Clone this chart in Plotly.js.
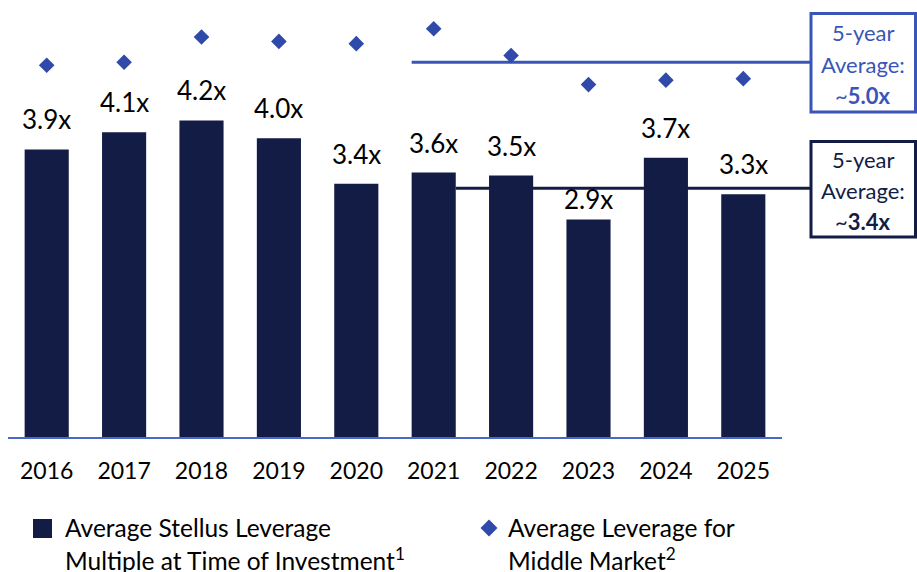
<!DOCTYPE html>
<html>
<head>
<meta charset="utf-8">
<script src="https://cdn.plot.ly/plotly-3.0.1.min.js"></script>
<style>html,body{margin:0;padding:0;background:#fff;}#chart{width:917px;height:572px;}</style>
</head>
<body>
<div id="chart"></div>
<script>
// ---- data ----
var years = ['2016','2017','2018','2019','2020','2021','2022','2023','2024','2025'];
var stellusValues = [3.86, 4.09, 4.25, 4.01, 3.40, 3.55, 3.51, 2.92, 3.75, 3.26];
var stellusLabels = ['3.9x','4.1x','4.2x','4.0x','3.4x','3.6x','3.5x','2.9x','3.7x','3.3x'];
var middleMarketValues = [4.99, 5.03, 5.37, 5.31, 5.28, 5.48, 5.12, 4.73, 4.79, 4.81];
var averageYears = ['2021','2022','2023','2024','2025'];
var middleMarketAverage = 5.03;
var stellusAverage = 3.34;
var middleMarketAverageLabel = ['5-year', 'Average:', '~<b>5.0x</b>'];
var stellusAverageLabel = ['5-year', 'Average:', '~<b>3.4x</b>'];
var stellusLegendLines = ['Average Stellus Leverage', 'Multiple at Time of Investment<sup>1</sup>'];
var middleMarketLegendLines = ['Average Leverage for', 'Middle Market<sup>2</sup>'];

// ---- layout helpers ----
var W = 917, H = 572, M = {l: 8, r: 135, t: 20, b: 135};
var plotW = W - M.l - M.r, plotH = H - M.t - M.b;
var yTop = plotH / 74.5;
var bargap = 0.43;
function px2paperX(px) { return (px - M.l) / plotW; }
function px2paperY(py) { return (H - M.b - py) / plotH; }
function catPaper(i, off) { return (i + 0.5 + off) / years.length; }

var DARK = '#121c45', BLUE = '#2f4aa8', LINEBLUE = '#3a55b8', AXIS = '#4a68c8';
var FONT = 'Lato, "Open Sans", sans-serif';

var firstAvg = years.indexOf(averageYears[0]);
var halfBar = (1 - bargap) / 2;

var traces = [
  {type: 'bar', x: years, y: stellusValues, name: 'Average Stellus Leverage Multiple at Time of Investment',
   marker: {color: DARK}, showlegend: false, hoverinfo: 'skip'},
  {type: 'scatter', mode: 'markers', x: years, y: middleMarketValues, cliponaxis: false,
   name: 'Average Leverage for Middle Market',
   marker: {symbol: 'diamond', size: 12, color: BLUE}, showlegend: false, hoverinfo: 'skip'}
];

var annotations = years.map(function (yr, i) {
  return {x: i, y: stellusValues[i], text: stellusLabels[i], showarrow: false,
          xref: 'x', yref: 'y', yanchor: 'bottom', yshift: (i === 7 ? 2 : 12),
          font: {family: FONT, size: 26, color: '#000'}};
});

function textLines(lines, color, xpx, anchor, top, step, size) {
  lines.forEach(function (t, k) {
    annotations.push({xref: 'paper', yref: 'paper', x: px2paperX(xpx), y: px2paperY(top + k * step),
      text: t, showarrow: false, xanchor: anchor, yanchor: 'middle',
      font: {family: FONT, size: size, color: color}});
  });
}
// average boxes
textLines(middleMarketAverageLabel, LINEBLUE, 863, 'center', 32, 32, 22);
textLines(stellusAverageLabel, DARK, 863, 'center', 159, 31, 22);
// legend
textLines(stellusLegendLines, '#000', 63, 'left', 527, 32, 24.5);
textLines(middleMarketLegendLines, '#000', 506, 'left', 527, 32, 24.5);

function pX(px) { return px2paperX(px); }
function pY(py) { return px2paperY(py); }
var dc = {x: 489, y: 528, r: 8.5};

var shapes = [
  {type: 'line', xref: 'paper', yref: 'y', layer: 'below',
   x0: catPaper(firstAvg, -halfBar), x1: px2paperX(810), y0: middleMarketAverage, y1: middleMarketAverage,
   line: {color: LINEBLUE, width: 3}},
  {type: 'line', xref: 'paper', yref: 'y', layer: 'below',
   x0: catPaper(firstAvg, halfBar), x1: px2paperX(810), y0: stellusAverage, y1: stellusAverage,
   line: {color: DARK, width: 3}},
  {type: 'rect', xref: 'paper', yref: 'paper', x0: pX(811), x1: pX(915.5),
   y0: pY(112), y1: pY(13.5), line: {color: LINEBLUE, width: 3}, fillcolor: '#fff'},
  {type: 'rect', xref: 'paper', yref: 'paper', x0: pX(811), x1: pX(915.5),
   y0: pY(237), y1: pY(141.5), line: {color: DARK, width: 3}, fillcolor: '#fff'},
  // legend swatches
  {type: 'rect', xref: 'paper', yref: 'paper', x0: pX(33), x1: pX(52), y0: pY(538), y1: pY(519),
   line: {width: 0}, fillcolor: DARK},
  {type: 'path', xref: 'paper', yref: 'paper', line: {width: 0}, fillcolor: BLUE,
   path: 'M' + pX(dc.x) + ',' + pY(dc.y - dc.r) + ' L' + pX(dc.x + dc.r) + ',' + pY(dc.y) +
         ' L' + pX(dc.x) + ',' + pY(dc.y + dc.r) + ' L' + pX(dc.x - dc.r) + ',' + pY(dc.y) + ' Z'}
];

var layout = {
  width: W, height: H, margin: M, paper_bgcolor: '#fff', plot_bgcolor: '#fff',
  bargap: bargap, font: {family: FONT, color: '#000'}, showlegend: false,
  xaxis: {type: 'category', range: [-0.5, years.length - 0.5], autorange: false,
          showline: true, linecolor: AXIS, linewidth: 2, ticks: '',
          showgrid: false, zeroline: false, ticklabelstandoff: 12,
          tickfont: {family: FONT, size: 23, color: '#000'}},
  yaxis: {range: [0, yTop], autorange: false, visible: false, showgrid: false, zeroline: false},
  shapes: shapes, annotations: annotations
};

Plotly.newPlot('chart', traces, layout, {displayModeBar: false, staticPlot: true});
</script>
</body>
</html>
